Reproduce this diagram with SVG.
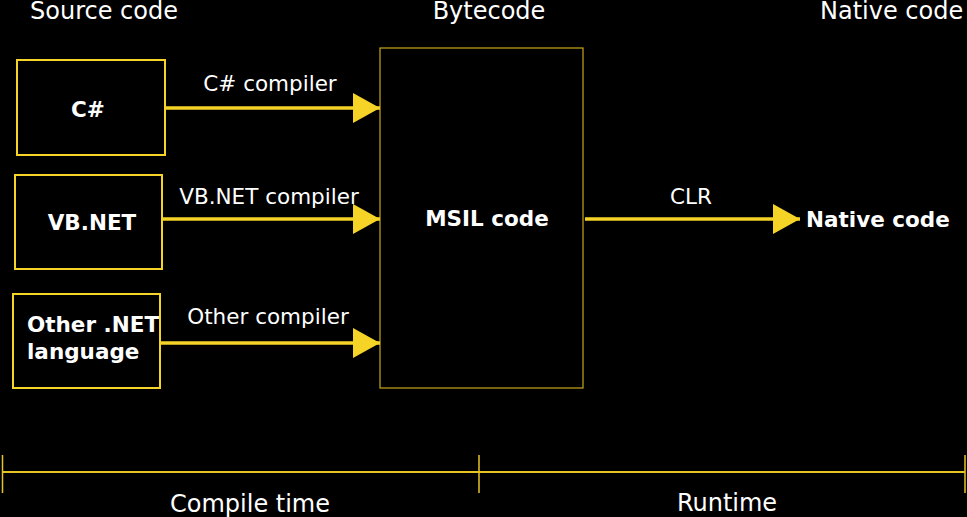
<svg xmlns="http://www.w3.org/2000/svg" width="967" height="517" viewBox="0 0 967 517">
<style>
.box{fill:none;stroke:#f5d327;stroke-width:2}
.msil{fill:none;stroke:#c9a718;stroke-width:1.2}
.conn{stroke:#f5d327;stroke-width:3.5;fill:none}
.tl{stroke:#e6c422;stroke-width:2;fill:none}
.tick{stroke:#e6c422;stroke-width:1.5;fill:none}
.lbl{font-family:"DejaVu Sans",sans-serif;font-size:21.5px;fill:#fff}
.nl{font-family:"DejaVu Sans",sans-serif;font-size:21.5px;font-weight:bold;fill:#fff}
.hdr{font-family:"DejaVu Sans",sans-serif;font-size:24px;fill:#fff}
</style>
<defs>
<marker id="ah" markerUnits="userSpaceOnUse" markerWidth="28" markerHeight="30" refX="27" refY="15" orient="auto">
<path d="M0,0 L27,15 L0,30 Z" fill="#f5d327"/>
</marker>
</defs>
<rect width="967" height="517" fill="#000"/>
<g id="headers">
<text class="hdr" x="30" y="19">Source code</text>
<text class="hdr" x="489" y="19" text-anchor="middle">Bytecode</text>
<text class="hdr" x="820" y="19">Native code</text>
</g>
<g id="node-csharp">
<rect class="box" x="17" y="60" width="148" height="95"/>
<text class="nl" x="88" y="117" text-anchor="middle">C#</text>
</g>
<g id="node-vbnet">
<rect class="box" x="15" y="175" width="147" height="94"/>
<text class="nl" x="92" y="230" text-anchor="middle">VB.NET</text>
</g>
<g id="node-other">
<rect class="box" x="13" y="294" width="147" height="94"/>
<text class="nl" x="27" y="332">Other .NET</text>
<text class="nl" x="27" y="359">language</text>
</g>
<g id="node-msil">
<rect class="msil" x="380" y="48" width="203" height="340"/>
<text class="nl" x="487" y="226" text-anchor="middle">MSIL code</text>
</g>
<g id="node-native">
<text class="nl" x="806" y="227">Native code</text>
</g>
<g id="connectors">
<line class="conn" x1="165" y1="108" x2="380" y2="108" marker-end="url(#ah)"/>
<line class="conn" x1="162" y1="219" x2="380" y2="219" marker-end="url(#ah)"/>
<line class="conn" x1="160" y1="343" x2="380" y2="343" marker-end="url(#ah)"/>
<line class="conn" x1="585" y1="219" x2="800" y2="219" marker-end="url(#ah)"/>
<text class="lbl" x="270" y="91" text-anchor="middle">C# compiler</text>
<text class="lbl" x="269" y="204" text-anchor="middle">VB.NET compiler</text>
<text class="lbl" x="268" y="324" text-anchor="middle">Other compiler</text>
<text class="lbl" x="691" y="204" text-anchor="middle">CLR</text>
</g>
<g id="timeline">
<line class="tl" x1="2" y1="472" x2="965" y2="472"/>
<line class="tick" x1="2.5" y1="455" x2="2.5" y2="493"/>
<line class="tick" x1="479" y1="455" x2="479" y2="493"/>
<line class="tick" x1="965" y1="455" x2="965" y2="493"/>
<text class="hdr" x="250" y="512" text-anchor="middle">Compile time</text>
<text class="hdr" x="727" y="511" text-anchor="middle">Runtime</text>
</g>
</svg>
